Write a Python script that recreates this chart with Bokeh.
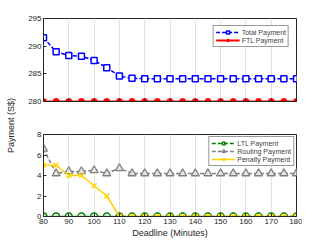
from bokeh.plotting import figure
from bokeh.layouts import column, row
from bokeh.models import Div, Range1d, FixedTicker
from bokeh.embed import file_html
from bokeh.resources import INLINE

deadline = [80, 85, 90, 95, 100, 105, 110, 115, 120, 125, 130, 135, 140, 145, 150, 155, 160, 165, 170, 175, 180]
total_payment = [291.5, 289.0, 288.3, 288.2, 287.4, 286.1, 284.6, 284.2, 284.1, 284.1, 284.1, 284.1, 284.1, 284.1, 284.1, 284.1, 284.1, 284.1, 284.1, 284.1, 284.1]
ftl_payment = [280.0] * 21
ltl_payment = [0.0] * 21
routing_payment = [6.6, 4.2, 4.4, 4.4, 4.5, 4.2, 4.7, 4.2, 4.2, 4.2, 4.2, 4.2, 4.2, 4.2, 4.2, 4.2, 4.2, 4.2, 4.2, 4.2, 4.2]
penalty_payment = [5.0, 5.0, 4.0, 4.0, 3.0, 2.0, 0.0, 0.0, 0.0, 0.0, 0.0, 0.0, 0.0, 0.0, 0.0, 0.0, 0.0, 0.0, 0.0, 0.0, 0.0]
x_ticks = [80, 90, 100, 110, 120, 130, 140, 150, 160, 170, 180]
top_ticks = [280, 285, 290, 295]
bottom_ticks = [0, 2, 4, 6, 8]

FONT = "Liberation Sans"
AX = "#262626"

def style(p, xticks, yticks, show_xlabels):
    p.xaxis.ticker = FixedTicker(ticks=xticks)
    p.yaxis.ticker = FixedTicker(ticks=yticks)
    for ax in (p.xaxis[0], p.yaxis[0]):
        ax.major_tick_in = 3
        ax.major_tick_out = 0
        ax.minor_tick_line_color = None
        ax.axis_line_color = AX
        ax.major_tick_line_color = AX
        ax.major_label_text_font = FONT
        ax.major_label_text_font_size = "8px"
        ax.major_label_text_color = AX
        ax.major_label_standoff = 2
    if not show_xlabels:
        p.xaxis.major_label_text_color = None
        p.xaxis.major_label_text_font_size = "1px"
        p.xaxis.major_label_standoff = 0
    p.ygrid.grid_line_color = None
    p.xgrid.grid_line_color = "#e3e3e3"
    p.outline_line_color = AX
    p.outline_line_alpha = 1.0
    p.background_fill_color = "white"
    p.border_fill_color = "white"

def style_legend(lg):
    lg.padding = 2
    lg.spacing = 0
    lg.label_text_font = FONT
    lg.label_text_font_size = "7px"
    lg.label_height = 8
    lg.glyph_height = 8
    lg.glyph_width = 24
    lg.label_standoff = 2
    lg.border_line_color = "#333333"

top = figure(width=280, height=108, output_backend="svg", toolbar_location=None,
             x_range=Range1d(80, 180), y_range=Range1d(280, 295),
             min_border_left=21, min_border_right=6, min_border_top=18, min_border_bottom=7)
style(top, x_ticks, top_ticks, False)
top.line(deadline, total_payment, line_color="blue", line_width=1.5, line_dash="4 2", legend_label="Total Payment")
top.scatter(deadline, total_payment, marker="square", size=6, line_color="blue", fill_color="white", line_width=1.5, legend_label="Total Payment")
top.line(deadline, ftl_payment, line_color="red", line_width=2, legend_label="FTL Payment")
top.scatter(deadline, ftl_payment, marker="asterisk", size=7, line_color="red", line_width=2, legend_label="FTL Payment")
top.legend.location = "top_right"
top.legend.margin = 7
style_legend(top.legend)

bottom = figure(width=280, height=132, output_backend="svg", toolbar_location=None,
                x_range=Range1d(80, 180), y_range=Range1d(0, 8),
                min_border_left=21, min_border_right=6, min_border_top=26, min_border_bottom=24)
style(bottom, x_ticks, bottom_ticks, True)
bottom.xaxis.axis_label = "Deadline (Minutes)"
bottom.xaxis.axis_label_text_font = FONT
bottom.xaxis.axis_label_text_font_size = "9px"
bottom.xaxis.axis_label_text_font_style = "normal"
bottom.xaxis.axis_label_text_color = AX
bottom.xaxis.axis_label_standoff = 1
bottom.line(deadline, ltl_payment, line_color="green", line_width=1.5, line_dash="4 2", legend_label="LTL Payment")
bottom.scatter(deadline, ltl_payment, marker="circle", size=7, line_color="green", fill_color=None, line_width=1.5, legend_label="LTL Payment")
bottom.line(deadline, routing_payment, line_color="gray", line_width=1.5, line_dash="4 2", legend_label="Routing Payment")
bottom.scatter(deadline, routing_payment, marker="triangle", size=8, line_color="gray", fill_color="#e6e6e6", line_width=1.3, legend_label="Routing Payment")
bottom.line(deadline, penalty_payment, line_color="#ffd200", line_width=1.5, legend_label="Penalty Payment")
bottom.scatter(deadline, penalty_payment, marker="x", size=7, line_color="#ffd200", line_width=1.5, legend_label="Penalty Payment")
bottom.legend.location = "top_right"
bottom.legend.margin = 2
style_legend(bottom.legend)

ylab = Div(text="Payment (S$)", width=12, height=240,
           styles={"writing-mode": "vertical-rl", "transform": "rotate(180deg)",
                   "font-family": FONT, "font-size": "9px", "color": AX,
                   "text-align": "center", "display": "flex", "align-items": "center",
                   "justify-content": "center"})

layout = row(ylab, column(top, bottom, spacing=0), spacing=0)

open("out.html", "w").write(file_html(layout, INLINE))
